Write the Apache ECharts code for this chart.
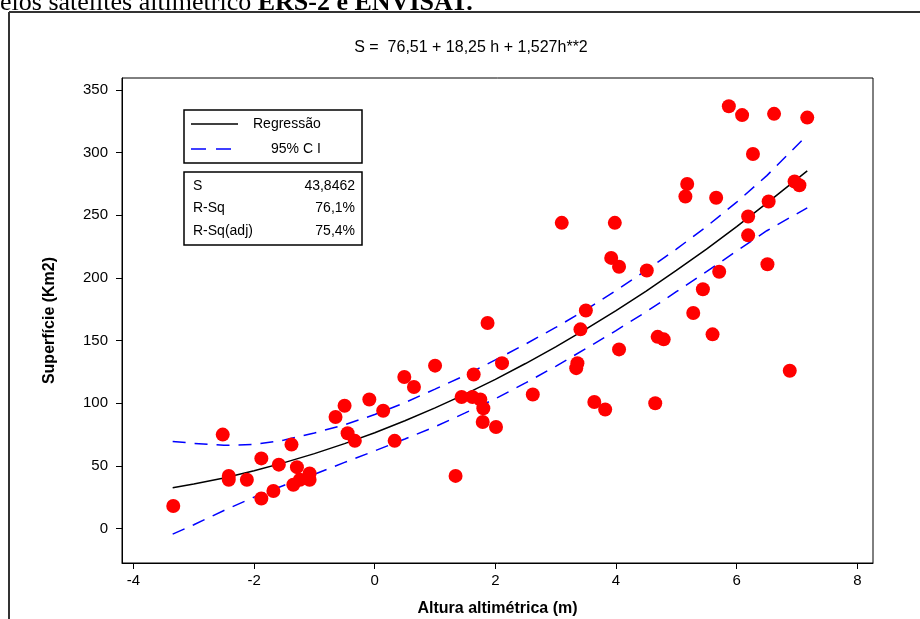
<!DOCTYPE html>
<html>
<head>
<meta charset="utf-8">
<script src="https://cdn.jsdelivr.net/npm/echarts@6/dist/echarts.min.js"></script>
<style>
  html, body { margin: 0; padding: 0; background: #fff; }
  #chart { width: 920px; height: 619px; }
</style>
</head>
<body>
<div id="chart"></div>
<script>
// tick labels
const xTicks = [-4, -2, 0, 2, 4, 6, 8];
const yTicks = [0, 50, 100, 150, 200, 250, 300, 350];

// observed points: altura (m) / superficie (km2)
const alturaObs = [
  -3.34, -2.52, -2.42, -2.42, -2.12, -1.88, -1.88, -1.68, -1.59, -1.38,
  -1.35, -1.29, -1.24, -1.08, -1.08, -0.65, -0.50, -0.45, -0.33, -0.09,
  0.14, 0.33, 0.49, 0.65, 1.00, 1.34, 1.44, 1.62, 1.75, 1.80,
  1.79, 1.64, 1.87, 2.01, 2.11, 2.62, 3.34, 3.36, 3.41, 3.50,
  3.10, 3.64, 3.82, 3.98, 3.92, 4.05, 4.05, 4.51, 4.65, 4.69,
  4.79, 5.28, 5.44, 5.60, 5.71, 5.15, 5.18, 5.66, 5.87, 6.09,
  6.62, 7.17, 6.27, 6.19, 6.19, 6.53, 6.51, 6.96, 7.04, 6.88
];
const superficieObs = [
  18, 75, 42, 39, 39, 56, 24, 30, 51, 67,
  35, 49, 39, 44, 39, 89, 98, 76, 70, 103,
  94, 70, 121, 113, 130, 42, 105, 105, 103, 96,
  85, 123, 164, 81, 132, 107, 128, 132, 159, 174,
  244, 101, 95, 244, 216, 209, 143, 206, 100, 153,
  151, 172, 191, 155, 205, 265, 275, 264, 337, 330,
  331, 328, 299, 249, 234, 261, 211, 277, 274, 126
];

// regression line and 95% CI
const alturaFit = [-3.35, -3, -2.5, -2, -1.5, -1, -0.5, 0, 0.5, 1, 1.5, 2, 2.5, 3, 3.5, 4, 4.5, 5, 5.5, 6, 6.5, 7.17];
const regressao = [32.5, 35.5, 40.4, 46.1, 52.6, 59.8, 67.8, 76.5, 86, 96.3, 107.3, 119.1, 131.7, 145, 159.1, 174, 189.5, 206, 223, 241, 259.7, 285.5];
const ciSuperior = [69.5, 68, 66.4, 67.1, 70.6, 76.3, 82.8, 91, 100.5, 111.3, 122.3, 134.6, 147.2, 160.5, 174.6, 190, 206, 223, 241, 260.5, 281.7, 314];
const ciInferior = [-4.5, 3, 14.4, 25.1, 34.6, 43.3, 52.8, 62, 71.5, 81.3, 92.3, 103.6, 116.2, 129.5, 143.6, 158, 173, 189, 205, 221.5, 237.7, 256];

const font = "'Liberation Sans', Arial, sans-serif";
const serif = "'Liberation Serif', 'Times New Roman', serif";

const pairs = (xs, ys) => xs.map((x, i) => [x, ys[i]]);

const chart = echarts.init(document.getElementById("chart"));

const option = {
  animation: false,
  backgroundColor: "#fff",
  textStyle: { fontFamily: font },
  grid: {
    left: 122, top: 78, width: 751, height: 485,
    outerBoundsMode: "none",
    show: true, borderColor: "#000", borderWidth: 1,
  },
  xAxis: {
    type: "value",
    min: -4.19, max: 8.26,
    name: "Altura altimétrica (m)",
    nameLocation: "middle",
    nameGap: 38,
    nameTextStyle: { fontFamily: font, fontSize: 16, fontWeight: "bold", color: "#000" },
    axisLine: { show: true, onZero: false, lineStyle: { color: "#000", width: 1 } },
    axisTick: { show: true, length: 6, customValues: xTicks, lineStyle: { color: "#000" } },
    axisLabel: { customValues: xTicks, margin: 10, fontSize: 15, color: "#000", fontFamily: font },
    splitLine: { show: false },
  },
  yAxis: {
    type: "value",
    min: -27.5, max: 359.6,
    name: "Superfície (Km2)",
    nameLocation: "middle",
    nameGap: 64,
    nameTextStyle: { fontFamily: font, fontSize: 16, fontWeight: "bold", color: "#000" },
    axisLine: { show: true, onZero: false, lineStyle: { color: "#000", width: 1 } },
    axisTick: { show: true, length: 6, customValues: yTicks, lineStyle: { color: "#000" } },
    axisLabel: { customValues: yTicks, margin: 14, fontSize: 15, color: "#000", fontFamily: font },
    splitLine: { show: false },
  },
  series: [
    {
      name: "Regressão",
      type: "line",
      data: pairs(alturaFit, regressao),
      symbol: "none",
      lineStyle: { color: "#000", width: 1.5 },
      z: 2,
    },
    {
      name: "95% CI",
      type: "line",
      data: pairs(alturaFit, ciSuperior),
      symbol: "none",
      lineStyle: { color: "#0000ff", width: 1.5, type: [13, 9] },
      z: 2,
    },
    {
      name: "95% CI inferior",
      type: "line",
      data: pairs(alturaFit, ciInferior),
      symbol: "none",
      lineStyle: { color: "#0000ff", width: 1.5, type: [13, 9] },
      z: 2,
    },
    {
      name: "Superfície",
      type: "scatter",
      data: pairs(alturaObs, superficieObs),
      symbol: "circle",
      symbolSize: 14,
      itemStyle: { color: "#ff0000", opacity: 1 },
      z: 3,
    },
  ],
  graphic: [
    // cut-off caption line from the page above
    {
      type: "text", left: -13, top: -10,
      style: {
        text: "pelos satélites altimétrico {b|ERS-2 e ENVISAT.}",
        font: "26px " + serif,
        fill: "#000",
        rich: { b: { fontFamily: serif, fontSize: 26, fontWeight: "bold" } },
      },
    },
    // outer figure frame
    { type: "line", shape: { x1: 9, y1: 12, x2: 920, y2: 12 }, style: { stroke: "#333", lineWidth: 2 } },
    { type: "line", shape: { x1: 9, y1: 12, x2: 9, y2: 619 }, style: { stroke: "#333", lineWidth: 2 } },
    // equation title
    {
      type: "text", x: 471, y: 48,
      style: {
        text: "S =  76,51 + 18,25 h + 1,527h**2",
        font: "16px " + font, fill: "#000",
        align: "center", verticalAlign: "middle",
      },
    },
    // legend box
    { type: "rect", shape: { x: 184, y: 110, width: 178, height: 53 }, style: { fill: "#fff", stroke: "#000", lineWidth: 1.5 }, z: 10 },
    { type: "line", shape: { x1: 191, y1: 124, x2: 238, y2: 124 }, style: { stroke: "#000", lineWidth: 1.5 }, z: 11 },
    { type: "text", x: 253, y: 124, style: { text: "Regressão", font: "14px " + font, fill: "#000", verticalAlign: "middle" }, z: 11 },
    { type: "line", shape: { x1: 191, y1: 149, x2: 238, y2: 149 }, style: { stroke: "#0000ff", lineWidth: 1.5, lineDash: [15, 10] }, z: 11 },
    { type: "text", x: 271, y: 149, style: { text: "95% C I", font: "14px " + font, fill: "#000", verticalAlign: "middle" }, z: 11 },
    // statistics box
    { type: "rect", shape: { x: 184, y: 172, width: 178, height: 73 }, style: { fill: "#fff", stroke: "#000", lineWidth: 1.5 }, z: 10 },
    { type: "text", x: 193, y: 186, style: { text: "S", font: "14px " + font, fill: "#000", verticalAlign: "middle" }, z: 11 },
    { type: "text", x: 193, y: 208, style: { text: "R-Sq", font: "14px " + font, fill: "#000", verticalAlign: "middle" }, z: 11 },
    { type: "text", x: 193, y: 231, style: { text: "R-Sq(adj)", font: "14px " + font, fill: "#000", verticalAlign: "middle" }, z: 11 },
    { type: "text", x: 355, y: 186, style: { text: "43,8462", font: "14px " + font, fill: "#000", align: "right", verticalAlign: "middle" }, z: 11 },
    { type: "text", x: 355, y: 208, style: { text: "76,1%", font: "14px " + font, fill: "#000", align: "right", verticalAlign: "middle" }, z: 11 },
    { type: "text", x: 355, y: 231, style: { text: "75,4%", font: "14px " + font, fill: "#000", align: "right", verticalAlign: "middle" }, z: 11 },
  ],
};

chart.setOption(option);
</script>
</body>
</html>
